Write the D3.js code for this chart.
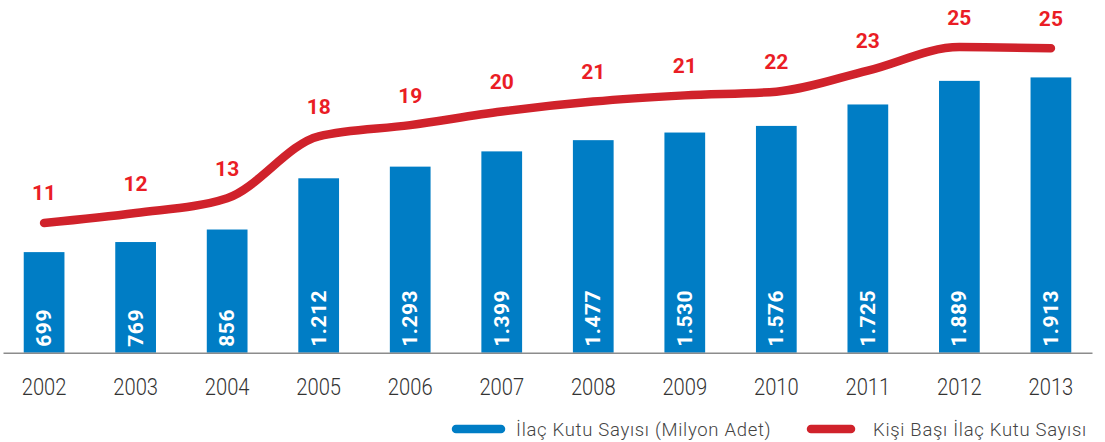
<!DOCTYPE html>
<html>
<head>
<meta charset="utf-8">
<script src="https://cdn.jsdelivr.net/npm/d3@7"></script>
<style>
	body { margin: 0; background: #ffffff; }
	svg { display: block; }
	text { font-family: Roboto, "Noto Sans", sans-serif; }
</style>
</head>
<body>
<svg id="vis"></svg>
<script>
// Data
var years = ["2002", "2003", "2004", "2005", "2006", "2007", "2008", "2009", "2010", "2011", "2012", "2013"];
var boxCounts = [699, 769, 856, 1212, 1293, 1399, 1477, 1530, 1576, 1725, 1889, 1913];
var boxLabels = ["699", "769", "856", "1.212", "1.293", "1.399", "1.477", "1.530", "1.576", "1.725", "1.889", "1.913"];
var perPerson = [10.8, 11.6, 12.8, 17.8, 18.7, 19.8, 20.6, 21.1, 21.4, 23.1, 25.0, 24.9];
var perPersonLabels = ["11", "12", "13", "18", "19", "20", "21", "21", "22", "23", "25", "25"];
var legendLabels = ["İlaç Kutu Sayısı (Milyon Adet)", "Kişi Başı İlaç Kutu Sayısı"];

var W = 1105, H = 442;
var baseline = 352.7;
var blue = "#007dc5", red = "#d0222b", redText = "#ea1d25";

var svg = d3.select("svg#vis")
	.attr("width", W)
	.attr("height", H);

var rows = years.map(function(y, i) {
	return {year: y, count: boxCounts[i], countLabel: boxLabels[i], pp: perPerson[i], ppLabel: perPersonLabels[i]};
});

// Scales
var x = d3.scaleBand()
	.domain(years)
	.range([3, 1092])
	.paddingInner(0.555)
	.paddingOuter(0.2265);

var yBar = d3.scaleLinear()
	.domain([0, 2451])
	.range([baseline, 0]);

var yLine = d3.scaleLinear()
	.domain([0, 28])
	.range([356.8, 356.8 - 28 * 12.39]);

function cx(d) { return x(d.year) + x.bandwidth() / 2; }

// squeeze text horizontally to look like the condensed original font
function condense(sel, k) {
	sel.each(function() {
		var len = this.getComputedTextLength();
		d3.select(this).attr("textLength", len * k).attr("lengthAdjust", "spacingAndGlyphs");
	});
}

// Bars
svg.append("g").attr("class", "bars")
	.selectAll("rect").data(rows).enter().append("rect")
	.attr("x", function(d) { return x(d.year); })
	.attr("y", function(d) { return yBar(d.count); })
	.attr("width", x.bandwidth())
	.attr("height", function(d) { return baseline - yBar(d.count); })
	.attr("fill", blue);

// Bar values (vertical, white)
svg.append("g").attr("class", "barLabels")
	.selectAll("text").data(rows).enter().append("text")
	.attr("transform", function(d) { return "translate(" + cx(d) + "," + (baseline - 6) + ") rotate(-90)"; })
	.attr("dominant-baseline", "central")
	.style("font-size", "21px")
	.style("font-weight", 700)
	.style("letter-spacing", "0.5px")
	.attr("fill", "#ffffff")
	.text(function(d) { return d.countLabel; });

// X axis
var xAxis = svg.append("g")
	.attr("class", "xAxis")
	.attr("transform", "translate(0," + baseline + ")")
	.call(d3.axisBottom(x).tickSize(0).tickPadding(25).tickSizeOuter(0));

xAxis.select(".domain").attr("stroke", "#8c8c8c").attr("stroke-width", 1.5);
xAxis.selectAll("text")
	.style("font-size", "24px")
	.style("font-weight", 300)
	.style("font-family", "Roboto, sans-serif")
	.attr("fill", "#333333")
	.call(condense, 0.84);

// Per person line
var line = d3.line()
	.x(cx)
	.y(function(d) { return yLine(d.pp); })
	.curve(d3.curveMonotoneX);

svg.append("path")
	.datum(rows)
	.attr("d", line)
	.attr("fill", "none")
	.attr("stroke", red)
	.attr("stroke-width", 8.5)
	.attr("stroke-linecap", "round")
	.attr("stroke-linejoin", "round");

svg.append("g").attr("class", "lineLabels")
	.selectAll("text").data(rows).enter().append("text")
	.attr("x", cx)
	.attr("y", function(d) { return yLine(d.pp) - 22.5; })
	.attr("text-anchor", "middle")
	.style("font-size", "21px")
	.style("font-weight", 700)
	.attr("fill", redText)
	.text(function(d) { return d.ppLabel; });

// Legend
var legend = svg.append("g").attr("class", "legend");
var legendItems = [
	{label: legendLabels[0], color: blue, x0: 456, x1: 501, tx: 516},
	{label: legendLabels[1], color: red, x0: 811, x1: 851, tx: 873}
];
var items = legend.selectAll("g").data(legendItems).enter().append("g");
items.append("line")
	.attr("x1", function(d) { return d.x0; })
	.attr("x2", function(d) { return d.x1; })
	.attr("y1", 429)
	.attr("y2", 429)
	.attr("stroke", function(d) { return d.color; })
	.attr("stroke-width", 8.5)
	.attr("stroke-linecap", "round");
items.append("text")
	.attr("x", function(d) { return d.tx; })
	.attr("y", 435.5)
	.style("font-size", "18.5px")
	.style("font-weight", 300)
	.style("letter-spacing", "0.7px")
	.attr("fill", "#444444")
	.text(function(d) { return d.label; });
</script>
</body>
</html>
